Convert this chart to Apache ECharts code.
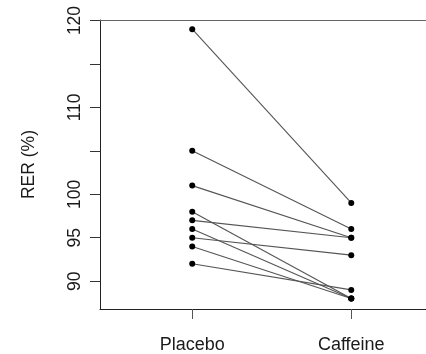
<!DOCTYPE html>
<html>
<head>
<meta charset="utf-8">
<script src="https://cdn.jsdelivr.net/npm/echarts@6/dist/echarts.min.js"></script>
<style>
html,body{margin:0;padding:0;background:#fff;}
#chart{width:426px;height:354px;}
</style>
</head>
<body>
<div id="chart"></div>
<script>
// Data
const conditions = ['Placebo', 'Caffeine'];
const placebo  = [119, 105, 101, 98, 97, 96, 95, 94, 92];
const caffeine = [ 99,  96,  95, 88, 95, 88, 93, 88, 89];
const yTickValues = [90, 95, 100, 105, 110, 115, 120];
const yLabelValues = [90, 95, 100, 110, 120];

const chart = echarts.init(document.getElementById('chart'), null, {renderer: 'canvas'});
const font = 'Liberation Sans, Arial, sans-serif';
const txt = '#1a1a1a';

const series = placebo.map((p, i) => ({
  type: 'line',
  data: [[1, p], [2, caffeine[i]]],
  symbol: 'circle',
  symbolSize: 6,
  lineStyle: {color: '#555', width: 1.1},
  itemStyle: {color: '#000'},
  animation: false,
  silent: true,
  z: 3
}));

chart.setOption({
  animation: false,
  grid: {left: 100, top: 20, right: 0, height: 289.3, show: false},
  xAxis: [{
    type: 'value', min: 0.42, max: 2.47,
    splitLine: {show: false},
    axisLine: {show: true, lineStyle: {color: '#222', width: 1}},
    axisTick: {show: true, customValues: [1, 2], length: 10, lineStyle: {color: '#555'}},
    axisLabel: {
      customValues: [1, 2], margin: 27,
      formatter: v => conditions[Math.round(v) - 1] || '',
      fontFamily: font, fontSize: 18, color: txt
    }
  }, {
    type: 'value', min: 0.42, max: 2.47, position: 'top',
    splitLine: {show: false},
    axisLine: {show: true, lineStyle: {color: '#666', width: 1}},
    axisTick: {show: false},
    axisLabel: {show: false}
  }],
  yAxis: {
    type: 'value', min: 86.8, max: 120.06,
    splitLine: {show: false},
    axisLine: {show: true, lineStyle: {color: '#222', width: 1}},
    axisTick: {show: true, customValues: yTickValues, length: 10, lineStyle: {color: '#333'}},
    axisLabel: {
      customValues: yLabelValues, rotate: 90, margin: 16,
      fontFamily: font, fontSize: 17.5, color: txt
    },
    name: 'RER (%)', nameLocation: 'middle', nameRotate: 90, nameGap: 62,
    nameTextStyle: {fontFamily: font, fontSize: 17.5, color: txt}
  },
  series: series
});
</script>
</body>
</html>
